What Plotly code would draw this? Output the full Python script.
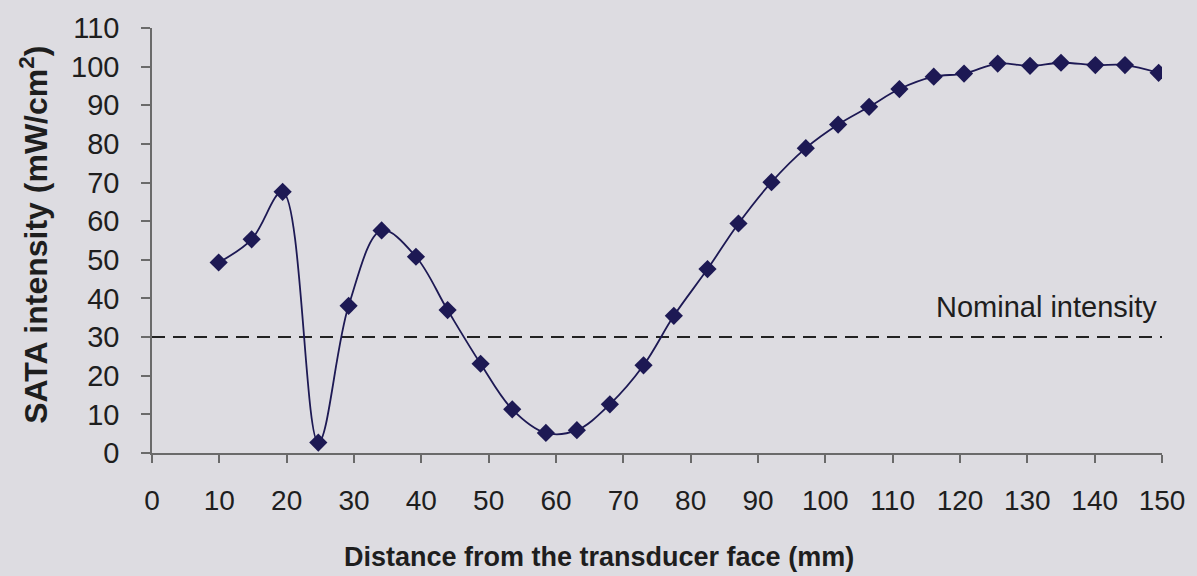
import plotly.graph_objects as go

# Measured SATA intensity along the beam axis
distance_mm = [9.9, 14.8, 19.4, 24.7, 29.2, 34.1, 39.2, 43.9, 48.8, 53.5,
               58.5, 63.1, 68.0, 73.0, 77.5, 82.5, 87.1, 92.0, 97.1, 101.9,
               106.5, 111.0, 116.1, 120.6, 125.6, 130.4, 135.0, 140.1, 144.5, 149.5]
sata_intensity = [49.3, 55.3, 67.6, 2.7, 38.1, 57.6, 50.8, 37.0, 23.1, 11.3,
                  5.2, 5.9, 12.6, 22.7, 35.5, 47.6, 59.4, 70.1, 78.9, 85.0,
                  89.6, 94.2, 97.4, 98.2, 100.8, 100.2, 101.0, 100.4, 100.4, 98.4]

nominal_intensity = 30
nominal_x = [0, 150]

x_ticks = list(range(0, 151, 10))
y_ticks = list(range(0, 111, 10))

bg = "#dddce1"
axis_col = "#6a6a6a"
text_col = "#1e1e1e"
series_col = "#1d1954"
font_family = "Liberation Sans, Arial, sans-serif"

fig = go.Figure()

fig.add_trace(go.Scatter(
    x=nominal_x, y=[nominal_intensity] * len(nominal_x),
    mode="lines",
    line=dict(color="#222222", width=2, dash="13px,8px"),
    hoverinfo="skip", showlegend=False,
))

fig.add_trace(go.Scatter(
    x=distance_mm, y=sata_intensity,
    mode="lines+markers",
    line=dict(color=series_col, width=1.8, shape="spline", smoothing=1.0),
    marker=dict(symbol="diamond", size=14, color=series_col),
    showlegend=False,
))

fig.add_annotation(
    x=149.5, y=37.8, xref="x", yref="y",
    text="Nominal intensity", showarrow=False,
    xanchor="right", yanchor="middle",
    font=dict(family=font_family, size=29, color=text_col),
)

fig.add_annotation(
    x=(600 - 152) / 1012, y=(453 - 557) / 427, xref="paper", yref="paper",
    text="<b>Distance from the transducer face (mm)</b>", showarrow=False,
    xanchor="center", yanchor="middle",
    font=dict(family=font_family, size=27, color=text_col),
)

fig.add_annotation(
    x=(33.5 - 152) / 1012, y=(453 - 234) / 427, xref="paper", yref="paper",
    text="<b>SATA intensity (mW/cm<sup>2</sup>)</b>", showarrow=False,
    textangle=-90, xanchor="center", yanchor="middle",
    font=dict(family=font_family, size=32, color=text_col),
)

fig.update_xaxes(
    range=[0, 150], tickvals=x_ticks, ticktext=[str(v) for v in x_ticks],
    showline=True, linecolor=axis_col, linewidth=1.5,
    ticks="outside", ticklen=8, tickwidth=1.5, tickcolor=axis_col,
    ticklabelstandoff=14,
    showgrid=False, zeroline=False,
    tickfont=dict(family=font_family, size=28, color=text_col),
)
fig.update_yaxes(
    range=[0, 110], tickvals=y_ticks, ticktext=[str(v) for v in y_ticks],
    showline=True, linecolor=axis_col, linewidth=1.5,
    ticks="outside", ticklen=9, tickwidth=1.5, tickcolor=axis_col,
    ticklabelstandoff=16,
    showgrid=False, zeroline=False,
    tickfont=dict(family=font_family, size=29, color=text_col),
)

fig.update_layout(
    width=1197, height=576,
    margin=dict(l=152, r=33, t=26, b=123),
    paper_bgcolor=bg, plot_bgcolor=bg,
)

fig.write_html("out.html")
